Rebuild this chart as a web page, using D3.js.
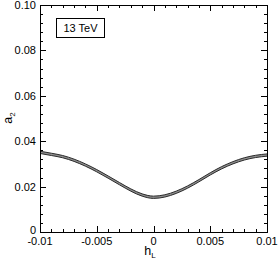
<!DOCTYPE html>
<html>
<head>
<meta charset="utf-8">
<script src="https://cdn.jsdelivr.net/npm/d3@7"></script>
<style>
  body { margin: 0; background: #fff; }
  svg { display: block; font-family: "Liberation Sans", Arial, sans-serif; }
</style>
</head>
<body>
<svg id="chart" width="278" height="262"></svg>
<script>
// values
const hL = [-0.010, -0.009, -0.008, -0.007, -0.006, -0.005, -0.004, -0.003, -0.002, -0.001,
  0.000, 0.001, 0.002, 0.003, 0.004, 0.005, 0.006, 0.007, 0.008, 0.009, 0.010];
const a2 = [0.0351, 0.0342, 0.0332, 0.0316, 0.0295, 0.0270, 0.0242, 0.0213, 0.0185, 0.0163,
  0.0153, 0.0159, 0.0175, 0.0198, 0.0226, 0.0256, 0.0283, 0.0305, 0.0322, 0.0333, 0.0339];
const bandHalf = 0.0005;
const xTicks = [-0.01, -0.005, 0, 0.005, 0.01];
const xTickLabels = ["-0.01", "-0.005", "0", "0.005", "0.01"];
const yTicks = [0, 0.02, 0.04, 0.06, 0.08, 0.10];
const yTickLabels = ["0", "0.02", "0.04", "0.06", "0.08", "0.10"];
const legendText = "13 TeV";

const svg = d3.select("#chart");
const m = { left: 40, right: 11, top: 5, bottom: 30 };
const W = 278, H = 262;

const x = d3.scaleLinear().domain([-0.01, 0.01]).range([m.left, W - m.right]);
const y = d3.scaleLinear().domain([0, 0.10]).range([H - m.bottom, m.top]);

const pts = hL.map((h, i) => ({ h: h, v: a2[i] }));

// band
const area = d3.area()
  .x(d => x(d.h))
  .y0(d => y(d.v - bandHalf))
  .y1(d => y(d.v + bandHalf))
  .curve(d3.curveMonotoneX);
svg.append("path").datum(pts).attr("d", area)
  .attr("fill", "#909090").attr("stroke", "none");

[-bandHalf, bandHalf].forEach(off => {
  const line = d3.line().x(d => x(d.h)).y(d => y(d.v + off)).curve(d3.curveMonotoneX);
  svg.append("path").datum(pts).attr("d", line)
    .attr("fill", "none").attr("stroke", "#2a2a2a").attr("stroke-width", 1);
});

// minor / major ticks on all sides
const g = svg.append("g").attr("stroke", "#000").attr("stroke-width", 1);
const xMinor = d3.range(-0.01, 0.01001, 0.001);
const yMinor = d3.range(0, 0.10001, 0.004);
function isMajor(v, step) { return Math.abs(v / step - Math.round(v / step)) < 1e-6; }

xMinor.forEach(v => {
  const len = isMajor(v, 0.005) ? 6 : 3;
  const px = Math.round(x(v)) + 0.5;
  g.append("line").attr("x1", px).attr("x2", px).attr("y1", y(0)).attr("y2", y(0) - len);
  g.append("line").attr("x1", px).attr("x2", px).attr("y1", y(0.10)).attr("y2", y(0.10) + len);
});
yMinor.forEach(v => {
  const len = isMajor(v, 0.02) ? 6 : 3;
  const py = Math.round(y(v)) + 0.5;
  g.append("line").attr("y1", py).attr("y2", py).attr("x1", x(-0.01)).attr("x2", x(-0.01) + len);
  g.append("line").attr("y1", py).attr("y2", py).attr("x1", x(0.01)).attr("x2", x(0.01) - len);
});

svg.append("rect")
  .attr("x", x(-0.01) + 0.5).attr("y", y(0.10) + 0.5)
  .attr("width", x(0.01) - x(-0.01)).attr("height", y(0) - y(0.10))
  .attr("fill", "none").attr("stroke", "#000").attr("stroke-width", 1);

// tick labels
svg.append("g").selectAll("text").data(xTicks).join("text")
  .attr("x", d => x(d)).attr("y", y(0) + 12.5)
  .attr("text-anchor", "middle").attr("font-size", 11)
  .text((d, i) => xTickLabels[i]);
svg.append("g").selectAll("text").data(yTicks).join("text")
  .attr("x", m.left - 4).attr("y", d => y(d) + (d === 0 ? 1.5 : 4))
  .attr("text-anchor", "end").attr("font-size", 11)
  .text((d, i) => yTickLabels[i]);

// axis titles
const xt = svg.append("text").attr("x", 150).attr("y", 255)
  .attr("text-anchor", "middle").attr("font-size", 12.5);
xt.append("tspan").text("h");
xt.append("tspan").attr("font-size", 8).attr("dy", 3).text("L");

const yt = svg.append("text").attr("transform", "translate(12,118) rotate(-90)")
  .attr("text-anchor", "middle").attr("font-size", 12.5);
yt.append("tspan").text("a");
yt.append("tspan").attr("font-size", 8).attr("dy", 3).text("2");

// legend box
svg.append("rect").attr("x", 56.5).attr("y", 18.5).attr("width", 48).attr("height", 19)
  .attr("fill", "#fff").attr("stroke", "#000").attr("stroke-width", 1);
svg.append("text").attr("x", 80.5).attr("y", 32).attr("text-anchor", "middle")
  .attr("font-size", 11).text(legendText);
</script>
</body>
</html>
